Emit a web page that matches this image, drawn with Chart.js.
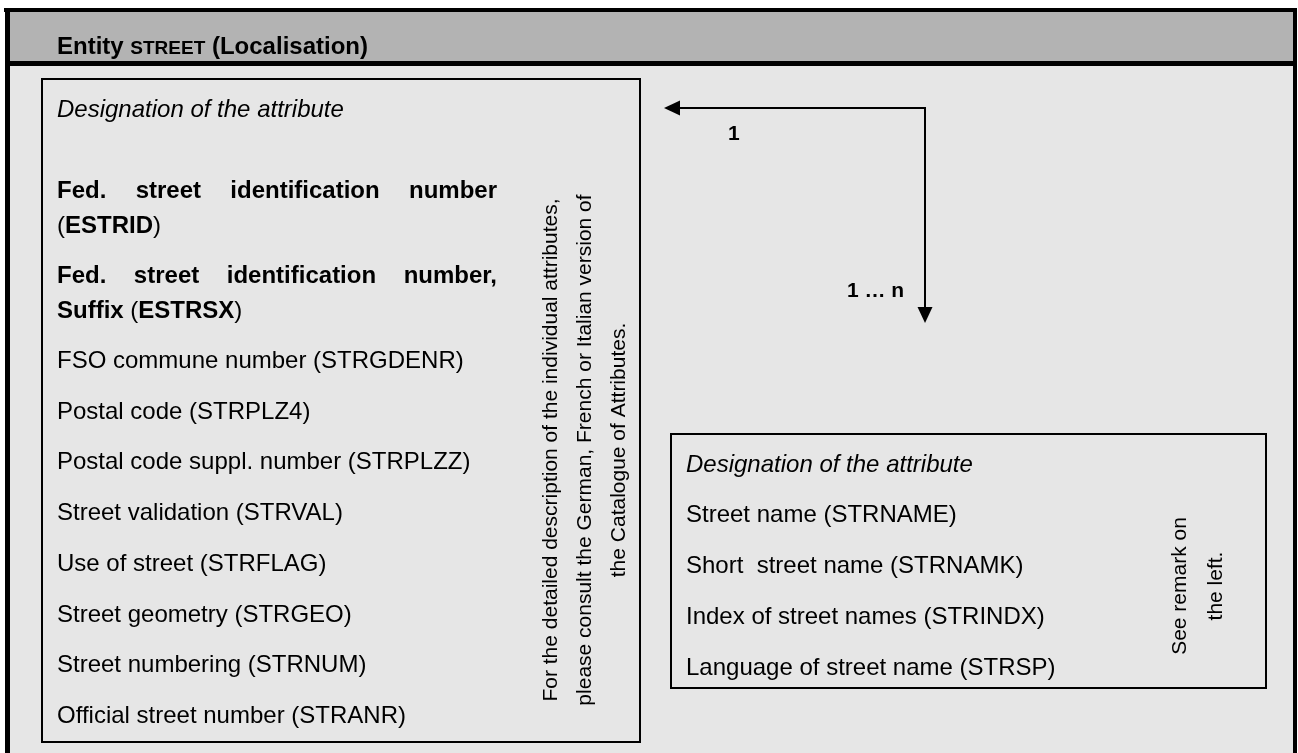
<!DOCTYPE html>
<html>
<head>
<meta charset="utf-8">
<script src="https://cdn.jsdelivr.net/npm/chart.js@4/dist/chart.umd.min.js"></script>
<style>
html, body { margin: 0; padding: 0; background: #ffffff; }
canvas { display: block; }
</style>
</head>
<body>
<canvas id="diagram" width="1298" height="753"></canvas>
<script>
// entity title
const titlePrefix = 'Entity';
const entityName = 'STREET';
const titleSuffix = '(Localisation)';

const attributeHeader = 'Designation of the attribute';

// identifying attributes, shown bold, one entry per printed line
const keyAttributes = [
    ['Fed. street identification number', '(ESTRID)'],
    ['Fed. street identification number,', 'Suffix (ESTRSX)']
];

const streetAttributes = [
    'FSO commune number (STRGDENR)',
    'Postal code (STRPLZ4)',
    'Postal code suppl. number (STRPLZZ)',
    'Street validation (STRVAL)',
    'Use of street (STRFLAG)',
    'Street geometry (STRGEO)',
    'Street numbering (STRNUM)',
    'Official street number (STRANR)'
];

const localisationAttributes = [
    'Street name (STRNAME)',
    'Short  street name (STRNAMK)',
    'Index of street names (STRINDX)',
    'Language of street name (STRSP)'
];

const streetRemark = [
    'For the detailed description of the individual attributes,',
    'please consult the German, French or Italian version of',
    'the Catalogue of Attributes.'
];
const localisationRemark = ['See remark on', 'the left.'];

const cardinality = ['1', '1 … n'];

// layout, in the units of the x / y scales (one unit = one pixel)
const W = 1298, H = 753;
const FONT = '"Liberation Sans", Arial, Helvetica, sans-serif';
const leftBox = { x1: 42, y1: 79, x2: 640, y2: 742 };
const rightBox = { x1: 671, y1: 434, x2: 1266, y2: 688 };
const textLeft = 57, textRight = 686;
const justifyWidth = 440;

function textDataset(kind, texts, points) {
    return {
        kind: kind,
        texts: texts,
        data: points,
        pointRadius: 0,
        pointHoverRadius: 0,
        showLine: false
    };
}

const keyLines = [];
const keyPoints = [];
keyAttributes.forEach((lines, k) => {
    lines.forEach((line, j) => {
        keyLines.push({ text: line, justify: j < lines.length - 1 });
        keyPoints.push({ x: textLeft, y: 198 + k * 85 + j * 35 });
    });
});

const datasets = [
    textDataset('header', [attributeHeader], [{ x: textLeft, y: 117 }]),
    textDataset('key', keyLines, keyPoints),
    textDataset('plain', streetAttributes, streetAttributes.map((t, i) => ({ x: textLeft, y: 368 + i * 50.7 }))),
    textDataset('header', [attributeHeader], [{ x: textRight, y: 472 }]),
    textDataset('plain', localisationAttributes, localisationAttributes.map((t, i) => ({ x: textRight, y: 522 + i * 51 }))),
    textDataset('remark', streetRemark, streetRemark.map((t, i) => ({ x: 557 + i * 34, y: 450 }))),
    textDataset('remark', localisationRemark, localisationRemark.map((t, i) => ({ x: 1186 + i * 36, y: 586 }))),
    textDataset('card', cardinality, [{ x: 728, y: 140 }, { x: 847, y: 297 }])
];

function drawKeyLine(ctx, item, x, y) {
    const bold = 'bold 24px ' + FONT;
    const regular = '24px ' + FONT;
    if (item.justify) {
        ctx.font = bold;
        const words = item.text.split(' ');
        const total = words.reduce((s, w) => s + ctx.measureText(w).width, 0);
        const gap = (justifyWidth - total) / (words.length - 1);
        let cx = x;
        words.forEach(w => {
            ctx.fillText(w, cx, y);
            cx += ctx.measureText(w).width + gap;
        });
        return;
    }
    // parentheses are regular, the rest bold
    let cx = x;
    item.text.split(/([()])/).forEach(part => {
        if (!part) return;
        ctx.font = (part === '(' || part === ')') ? regular : bold;
        ctx.fillText(part, cx, y);
        cx += ctx.measureText(part).width;
    });
}

const diagramPlugin = {
    id: 'diagram',
    beforeDatasetsDraw(chart) {
        const ctx = chart.ctx;
        const sx = v => chart.scales.x.getPixelForValue(v);
        const sy = v => chart.scales.y.getPixelForValue(v);
        ctx.save();
        ctx.fillStyle = '#ffffff';
        ctx.fillRect(0, 0, W, H);

        // header band and body
        ctx.fillStyle = '#b3b3b3';
        ctx.fillRect(sx(8), sy(12), sx(1293) - sx(8), sy(61) - sy(12));
        ctx.fillStyle = '#e6e6e6';
        ctx.fillRect(sx(8), sy(66), sx(1293) - sx(8), sy(H) - sy(66));

        // heavy frame
        ctx.fillStyle = '#000000';
        ctx.fillRect(sx(4), sy(8), sx(1297) - sx(4), 4);
        ctx.fillRect(sx(5), sy(8), 5, sy(H) - sy(8));
        ctx.fillRect(sx(1293), sy(8), 4, sy(H) - sy(8));
        ctx.fillRect(sx(5), sy(61), sx(1297) - sx(5), 5);

        // attribute boxes
        ctx.strokeStyle = '#000000';
        ctx.lineWidth = 2;
        [leftBox, rightBox].forEach(b => {
            ctx.strokeRect(sx(b.x1), sy(b.y1), sx(b.x2) - sx(b.x1), sy(b.y2) - sy(b.y1));
        });

        // relationship arrow
        ctx.lineWidth = 2;
        ctx.beginPath();
        ctx.moveTo(sx(678), sy(108));
        ctx.lineTo(sx(925), sy(108));
        ctx.lineTo(sx(925), sy(310));
        ctx.stroke();
        ctx.beginPath();
        ctx.moveTo(sx(664), sy(108));
        ctx.lineTo(sx(680), sy(100.5));
        ctx.lineTo(sx(680), sy(115.5));
        ctx.closePath();
        ctx.fill();
        ctx.beginPath();
        ctx.moveTo(sx(925), sy(323));
        ctx.lineTo(sx(917.5), sy(307));
        ctx.lineTo(sx(932.5), sy(307));
        ctx.closePath();
        ctx.fill();

        // title
        ctx.textBaseline = 'alphabetic';
        ctx.textAlign = 'left';
        let tx = sx(textLeft);
        const ty = sy(54);
        ctx.font = 'bold 24px ' + FONT;
        ctx.fillText(titlePrefix + ' ', tx, ty);
        tx += ctx.measureText(titlePrefix + ' ').width;
        ctx.font = 'bold 19px ' + FONT;
        ctx.fillText(entityName, tx, ty);
        tx += ctx.measureText(entityName).width;
        ctx.font = 'bold 24px ' + FONT;
        ctx.fillText(' ' + titleSuffix, tx, ty);
        ctx.restore();
    },
    afterDatasetsDraw(chart) {
        const ctx = chart.ctx;
        ctx.save();
        ctx.fillStyle = '#000000';
        ctx.textBaseline = 'alphabetic';
        chart.data.datasets.forEach((ds, i) => {
            const meta = chart.getDatasetMeta(i);
            meta.data.forEach((pt, j) => {
                const item = ds.texts[j];
                if (ds.kind === 'header') {
                    ctx.textAlign = 'left';
                    ctx.font = 'italic 24px ' + FONT;
                    ctx.fillText(item, pt.x, pt.y);
                } else if (ds.kind === 'plain') {
                    ctx.textAlign = 'left';
                    ctx.font = '24px ' + FONT;
                    ctx.fillText(item, pt.x, pt.y);
                } else if (ds.kind === 'key') {
                    ctx.textAlign = 'left';
                    drawKeyLine(ctx, item, pt.x, pt.y);
                } else if (ds.kind === 'remark') {
                    ctx.save();
                    ctx.translate(pt.x, pt.y);
                    ctx.rotate(-Math.PI / 2);
                    ctx.textAlign = 'center';
                    ctx.font = '21px ' + FONT;
                    ctx.fillText(item, 0, 0);
                    ctx.restore();
                } else if (ds.kind === 'card') {
                    ctx.textAlign = 'left';
                    ctx.font = 'bold 21px ' + FONT;
                    ctx.fillText(item, pt.x, pt.y);
                }
            });
        });
        ctx.restore();
    }
};

new Chart(document.getElementById('diagram').getContext('2d'), {
    type: 'scatter',
    data: { datasets: datasets },
    options: {
        responsive: false,
        animation: false,
        devicePixelRatio: 1,
        events: [],
        layout: { padding: 0 },
        plugins: {
            legend: { display: false },
            tooltip: { enabled: false }
        },
        scales: {
            x: { type: 'linear', min: 0, max: W, display: false },
            y: { type: 'linear', min: 0, max: H, reverse: true, display: false }
        }
    },
    plugins: [diagramPlugin]
});
</script>
</body>
</html>
